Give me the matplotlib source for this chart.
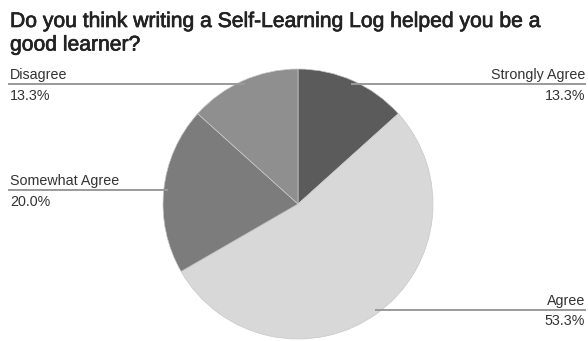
import numpy as np
import matplotlib
matplotlib.use('Agg')
import matplotlib.pyplot as plt
import matplotlib.patheffects as pe

plt.rcParams['font.family'] = ['Liberation Sans', 'DejaVu Sans']

# survey answers (counts out of 15 students)
labels = ["Strongly Agree", "Agree", "Somewhat Agree", "Disagree"]
counts = [2, 8, 3, 2]
colors = ["#5b5b5b", "#d8d8d8", "#7c7c7c", "#8f8f8f"]
title_lines = ["Do you think writing a Self-Learning Log helped you be a",
               "good learner?"]

W, H = 588, 341
fig = plt.figure(figsize=(W / 100, H / 100), dpi=100)
ax = fig.add_axes([0, 0, 1, 1])

cx, cy, r = 298, H - 204, 135
wedges, _ = ax.pie(counts, colors=colors, startangle=90, counterclock=False,
                   center=(cx, cy), radius=r, frame=True,
                   wedgeprops=dict(linewidth=0.5, edgecolor='#c8c8c8'))
ax.set_xlim(0, W)
ax.set_ylim(0, H)
ax.set_aspect('equal')
ax.axis('off')

total = sum(counts)
for w, lab, c in zip(wedges, labels, counts):
    mid = np.deg2rad((w.theta1 + w.theta2) / 2)
    sx = cx + 0.97 * r * np.cos(mid)
    sy = cy + 0.97 * r * np.sin(mid)
    pct = f"{100 * c / total:.1f}%"
    if sx > cx:
        x0, x1, tx, ha = sx, 586, 585, 'right'
    else:
        x0, x1, tx, ha = 8, sx, 10, 'left'
    ax.plot([x0, x1], [sy, sy], color='#9a9a9a', lw=1.4, solid_capstyle='butt')
    ax.text(tx, sy + 5, lab, ha=ha, va='baseline', fontsize=10.3, color='#333333')
    ax.text(tx, sy - 15.5, pct, ha=ha, va='baseline', fontsize=10.3, color='#333333')

thick = [pe.withStroke(linewidth=0.5, foreground='#222222')]
for i, line in enumerate(title_lines):
    fig.text(10 / W, 1 - (27 + 23.5 * i) / H, line, ha='left', va='baseline',
             fontsize=15.2, color='#222222', path_effects=thick)

fig.savefig("out.png", dpi=100)
